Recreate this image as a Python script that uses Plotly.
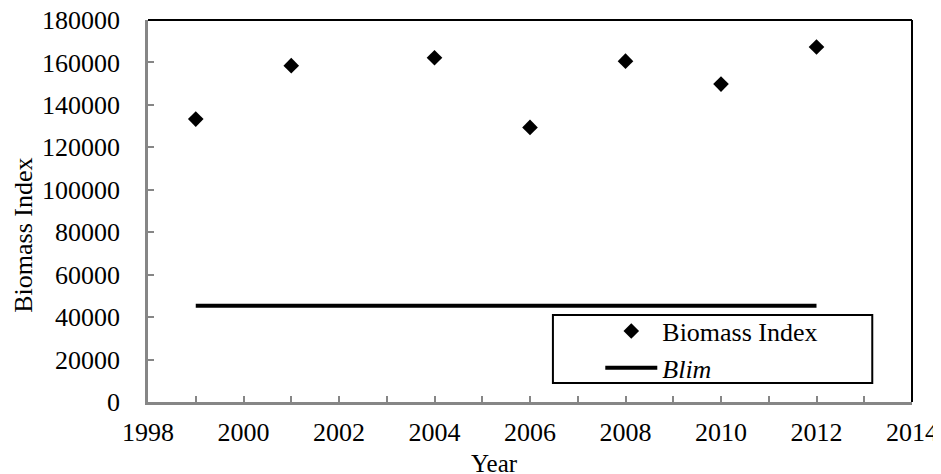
import plotly.graph_objects as go

years = [1999, 2001, 2004, 2006, 2008, 2010, 2012]
biomass_index = [133300, 158500, 162200, 129400, 160600, 149800, 167300]
blim_years = [1999, 2012]
blim_values = [45400, 45400]

font_family = "Liberation Serif, Times New Roman, serif"
axis_grey = "#868686"

fig = go.Figure()

fig.add_trace(go.Scatter(
    x=years, y=biomass_index,
    mode="markers",
    name="Biomass Index",
    marker=dict(symbol="diamond", size=12, color="black"),
))

fig.add_trace(go.Scatter(
    x=blim_years, y=blim_values,
    mode="lines",
    name="<i>Blim</i>",
    line=dict(color="black", width=4),
))

# black top/right border of the plot box
fig.add_shape(type="line", xref="paper", yref="paper", x0=0, x1=1, y0=1, y1=1,
              line=dict(color="black", width=2))
fig.add_shape(type="line", xref="paper", yref="paper", x0=1, x1=1, y0=0, y1=1,
              line=dict(color="black", width=2))
# legend frame
fig.add_shape(type="rect", xref="paper", yref="paper",
              x0=0.530, x1=0.948, y0=0.050, y1=0.228,
              line=dict(color="black", width=2), fillcolor="white", layer="above")

# axis titles (offset from centre, as in the original)
fig.add_annotation(text="Year", xref="paper", yref="paper", x=0.454, y=-0.162,
                   xanchor="center", yanchor="middle",
                   showarrow=False, font=dict(size=25))
fig.add_annotation(text="Biomass Index", xref="paper", yref="paper", x=-0.164, y=0.437,
                   xanchor="center", yanchor="middle",
                   showarrow=False, textangle=-90, font=dict(size=26))

fig.update_layout(
    width=941, height=474,
    margin=dict(l=140, r=37, t=12, b=80),
    paper_bgcolor="white", plot_bgcolor="white",
    font=dict(family=font_family, size=26, color="black"),
    showlegend=True,
    legend=dict(
        x=0.592, y=0.247, xanchor="left", yanchor="top",
        borderwidth=0, bgcolor="rgba(0,0,0,0)",
        font=dict(size=26), itemwidth=52,
        tracegroupgap=0,
    ),
    xaxis=dict(
        range=[1998, 2014], dtick=2, tick0=1998,
        showgrid=False, zeroline=False, automargin=False,
        showline=True, linecolor=axis_grey, linewidth=2.5,
        ticks="inside", ticklen=6, tickcolor=axis_grey, tickwidth=1.5,
        minor=dict(dtick=1, ticks="inside", ticklen=6, tickcolor=axis_grey, tickwidth=1.5),
        ticklabelstandoff=5,
        ticklabeloverflow="allow",
        tickfont=dict(size=26),
    ),
    yaxis=dict(
        range=[0, 180000], dtick=20000,
        showgrid=False, zeroline=False, automargin=False,
        showline=True, linecolor=axis_grey, linewidth=2.5,
        ticks="inside", ticklen=6, tickcolor=axis_grey, tickwidth=1.5,
        tickformat="d",
        ticklabelstandoff=20,
        ticklabeloverflow="allow",
        tickfont=dict(size=26),
    ),
)

fig.write_html("out.html")
